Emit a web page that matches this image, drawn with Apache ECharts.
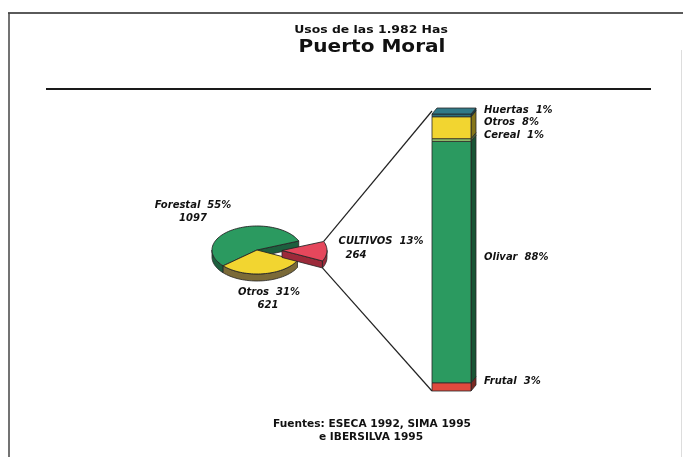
<!DOCTYPE html>
<html>
<head>
<meta charset="utf-8">
<script src="https://cdn.jsdelivr.net/npm/echarts@6/dist/echarts.min.js"></script>
<style>
  html, body { margin: 0; padding: 0; background: #ffffff; }
  #chart { width: 683px; height: 457px; }
</style>
</head>
<body>
<div id="chart"></div>
<script>
// Land use of the municipality, hectares
const landUse = ['Forestal', 'Otros', 'CULTIVOS'];
const landHa = [1097, 621, 264];

// Breakdown of the cultivated land (%), listed from the top of the column down
const crops = ['Huertas', 'Otros', 'Cereal', 'Olivar', 'Frutal'];
const cropPct = [1, 8, 1, 88, 3];

// Header and sources
const titleLines = ['Usos de las 1.982 Has', 'Puerto Moral'];
const sourceLines = ['Fuentes: ESECA 1992, SIMA 1995', 'e IBERSILVA 1995'];

// ---- styling and layout ----
const landColors = ['#2b9a60', '#f2d530', '#e5475c'];
const landSideColors = ['#1d5f3e', '#7b6a38', '#9c2a3a'];
const cropColors = ['#2d6f7c', '#f2d530', '#93c46e', '#2b9a60', '#e04a3e'];

const EXPLODED = 2;                 // the cultivated slice is pulled out
const PIE = { cx: 257, cy: 250, rx: 45, ry: 24, depth: 7, startDeg: 22, explode: 25 };
// label anchors relative to the pie centre: [line1 dx, line1 dy, line2 dx, line2 dy]
const PIE_LABEL_OFFSETS = [[-64, -45, -64, -32], [12, 42, 11, 55], [124, -9, 99, 5]];
const BAR_DEPTH = { dx: 5, dy: -6 };
const LABEL_FONT = 'italic bold 10px "DejaVu Sans"';
const OUTLINE = '#262626';

const rad = d => d * Math.PI / 180;

function shade(hex, f) {
  const n = parseInt(hex.slice(1), 16);
  const c = [(n >> 16) & 255, (n >> 8) & 255, n & 255].map(v => Math.max(0, Math.min(255, Math.round(v * f))));
  return 'rgb(' + c.join(',') + ')';
}

// Angular layout of the pie slices (degrees, counter-clockwise, 0 = right)
function pieSlices() {
  const total = landHa.reduce((a, b) => a + b, 0);
  let a = PIE.startDeg;
  return landHa.map((v, i) => {
    const span = v / total * 360;
    const s = { start: a, end: a + span, pct: Math.round(v / total * 100), value: v };
    a += span;
    const mid = rad((s.start + s.end) / 2);
    const off = i === EXPLODED ? PIE.explode : 0;
    s.ox = PIE.cx + off * Math.cos(mid);
    s.oy = PIE.cy - off * Math.sin(mid) * (PIE.ry / PIE.rx);
    return s;
  });
}

function rim(s, deg, dy) {
  return [s.ox + PIE.rx * Math.cos(rad(deg)), s.oy - PIE.ry * Math.sin(rad(deg)) + (dy || 0)];
}

function arcPts(s, a0, a1, dy) {
  const n = Math.max(2, Math.ceil(Math.abs(a1 - a0) / 3));
  const pts = [];
  for (let k = 0; k <= n; k++) pts.push(rim(s, a0 + (a1 - a0) * k / n, dy));
  return pts;
}

function renderPie(params, api) {
  const i = params.dataIndex;
  const slices = pieSlices();
  const s = slices[i];
  const n = slices.length;
  const prev = (i - 1 + n) % n, next = (i + 1) % n;
  const D = PIE.depth;
  const children = [];
  const sideStyle = { fill: landSideColors[i], stroke: OUTLINE, lineWidth: 0.8 };

  // cut faces left open by the pulled-out slice
  const face = deg => children.push({
    type: 'polygon',
    shape: { points: [[s.ox, s.oy], rim(s, deg), rim(s, deg, D), [s.ox, s.oy + D]] },
    style: sideStyle
  });
  if (Math.cos(rad(s.start)) > 0 && (i === EXPLODED || prev === EXPLODED)) face(s.start);
  if (Math.cos(rad(s.end)) < 0 && (i === EXPLODED || next === EXPLODED)) face(s.end);

  // outer wall on the front half of the disc
  [[-180, 0], [180, 360], [540, 720]].forEach(([a, b]) => {
    const lo = Math.max(s.start, a), hi = Math.min(s.end, b);
    if (hi > lo) {
      children.push({
        type: 'polygon',
        shape: { points: arcPts(s, lo, hi, 0).concat(arcPts(s, hi, lo, D)) },
        style: sideStyle
      });
    }
  });

  // top face
  children.push({
    type: 'polygon',
    shape: { points: [[s.ox, s.oy]].concat(arcPts(s, s.start, s.end, 0)) },
    style: { fill: landColors[i], stroke: OUTLINE, lineWidth: 0.9 }
  });

  // labels
  const o = PIE_LABEL_OFFSETS[i];
  children.push({
    type: 'text', x: PIE.cx + o[0], y: PIE.cy + o[1],
    style: { text: landUse[i] + '  ' + s.pct + '%', font: LABEL_FONT, fill: '#111',
             textAlign: 'center', textVerticalAlign: 'middle' }
  });
  children.push({
    type: 'text', x: PIE.cx + o[2], y: PIE.cy + o[3],
    style: { text: String(api.value(1)), font: LABEL_FONT, fill: '#111',
             textAlign: 'center', textVerticalAlign: 'middle' }
  });
  return { type: 'group', children };
}

// Stacked column segments, built from the bottom up
const cropTotal = cropPct.reduce((a, b) => a + b, 0);
const cropSegments = [];
(function () {
  let acc = 0;
  for (let k = crops.length - 1; k >= 0; k--) {
    cropSegments.push([0, acc, acc + cropPct[k], k]);
    acc += cropPct[k];
  }
})();

function renderBar(params, api) {
  const k = api.value(3);
  const lo = api.coord([0, api.value(1)]);
  const hi = api.coord([0, api.value(2)]);
  const w = api.size([1, 0])[0];
  const x0 = lo[0] - w / 2, x1 = x0 + w;
  const { dx, dy } = BAR_DEPTH;
  const col = cropColors[k];
  const children = [
    { type: 'polygon',
      shape: { points: [[x1, hi[1]], [x1 + dx, hi[1] + dy], [x1 + dx, lo[1] + dy], [x1, lo[1]]] },
      style: { fill: shade(col, 0.55), stroke: OUTLINE, lineWidth: 0.8 } },
    { type: 'rect', shape: { x: x0, y: hi[1], width: w, height: lo[1] - hi[1] },
      style: { fill: col, stroke: OUTLINE, lineWidth: 0.8 } }
  ];
  if (k === 0) {
    children.push({ type: 'polygon',
      shape: { points: [[x0, hi[1]], [x0 + dx, hi[1] + dy], [x1 + dx, hi[1] + dy], [x1, hi[1]]] },
      style: { fill: shade(col, 1.1), stroke: OUTLINE, lineWidth: 0.8 } });
  }
  children.push({
    type: 'text', x: x1 + dx + 8, y: (lo[1] + hi[1]) / 2 + dy * 0.85,
    style: { text: crops[k] + '  ' + cropPct[k] + '%', font: LABEL_FONT, fill: '#111',
             textAlign: 'left', textVerticalAlign: 'middle' }
  });
  return { type: 'group', children };
}

// Lines joining the pulled-out slice to the column
function renderLinks(params, api) {
  const s = pieSlices()[EXPLODED];
  const top = api.coord([0, api.value(1)]);
  const bottom = api.coord([0, 0]);
  const x0 = top[0] - api.size([1, 0])[0] / 2;
  const a = rim(s, s.end), b = rim(s, s.start, PIE.depth);
  const st = { stroke: '#222', lineWidth: 1.2 };
  return { type: 'group', children: [
    { type: 'line', shape: { x1: a[0], y1: a[1], x2: x0, y2: top[1] + BAR_DEPTH.dy * 0.5 }, style: st },
    { type: 'line', shape: { x1: b[0], y1: b[1], x2: x0, y2: bottom[1] }, style: st }
  ] };
}

const chart = echarts.init(document.getElementById('chart'), null, { renderer: 'canvas' });
chart.setOption({
  animation: false,
  backgroundColor: '#ffffff',
  grid: { left: 432, top: 114, width: 39, bottom: 66 },
  xAxis: { type: 'category', data: ['CULTIVOS'], show: false },
  yAxis: { type: 'value', min: 0, max: cropTotal, show: false },
  graphic: [
    // page frame
    { type: 'line', shape: { x1: 8, y1: 13, x2: 683, y2: 13 }, style: { stroke: '#5a5a5a', lineWidth: 2 } },
    { type: 'line', shape: { x1: 9, y1: 13, x2: 9, y2: 457 }, style: { stroke: '#444', lineWidth: 1.5 } },
    { type: 'line', shape: { x1: 681.5, y1: 50, x2: 681.5, y2: 457 }, style: { stroke: '#dddddd', lineWidth: 1 } },
    { type: 'line', shape: { x1: 46, y1: 89, x2: 651, y2: 89 }, style: { stroke: '#1a1a1a', lineWidth: 2 } },
    // header
    { type: 'text', x: 371, y: 30, scaleX: 1.13,
      style: { text: titleLines[0], font: 'bold 11px "DejaVu Sans"', fill: '#111',
               textAlign: 'center', textVerticalAlign: 'middle' } },
    { type: 'text', x: 372, y: 48, scaleX: 1.18,
      style: { text: titleLines[1], font: 'bold 17px "DejaVu Sans"', fill: '#111',
               textAlign: 'center', textVerticalAlign: 'middle' } },
    // sources
    { type: 'text', x: 372, y: 424, scaleX: 1.02,
      style: { text: sourceLines[0], font: 'bold 10.4px "DejaVu Sans"', fill: '#111',
               textAlign: 'center', textVerticalAlign: 'middle' } },
    { type: 'text', x: 371, y: 437, scaleX: 1.02,
      style: { text: sourceLines[1], font: 'bold 10.4px "DejaVu Sans"', fill: '#111',
               textAlign: 'center', textVerticalAlign: 'middle' } }
  ],
  series: [
    { type: 'custom', name: 'links', coordinateSystem: 'cartesian2d',
      data: [[0, cropTotal]], renderItem: renderLinks, z: 1, silent: true },
    { type: 'custom', name: 'uso', coordinateSystem: 'none',
      data: landHa.map((v, i) => [i, v]), renderItem: renderPie, z: 2, silent: true },
    { type: 'custom', name: 'cultivos', coordinateSystem: 'cartesian2d',
      data: cropSegments, renderItem: renderBar, z: 3, silent: true }
  ]
});
</script>
</body>
</html>
